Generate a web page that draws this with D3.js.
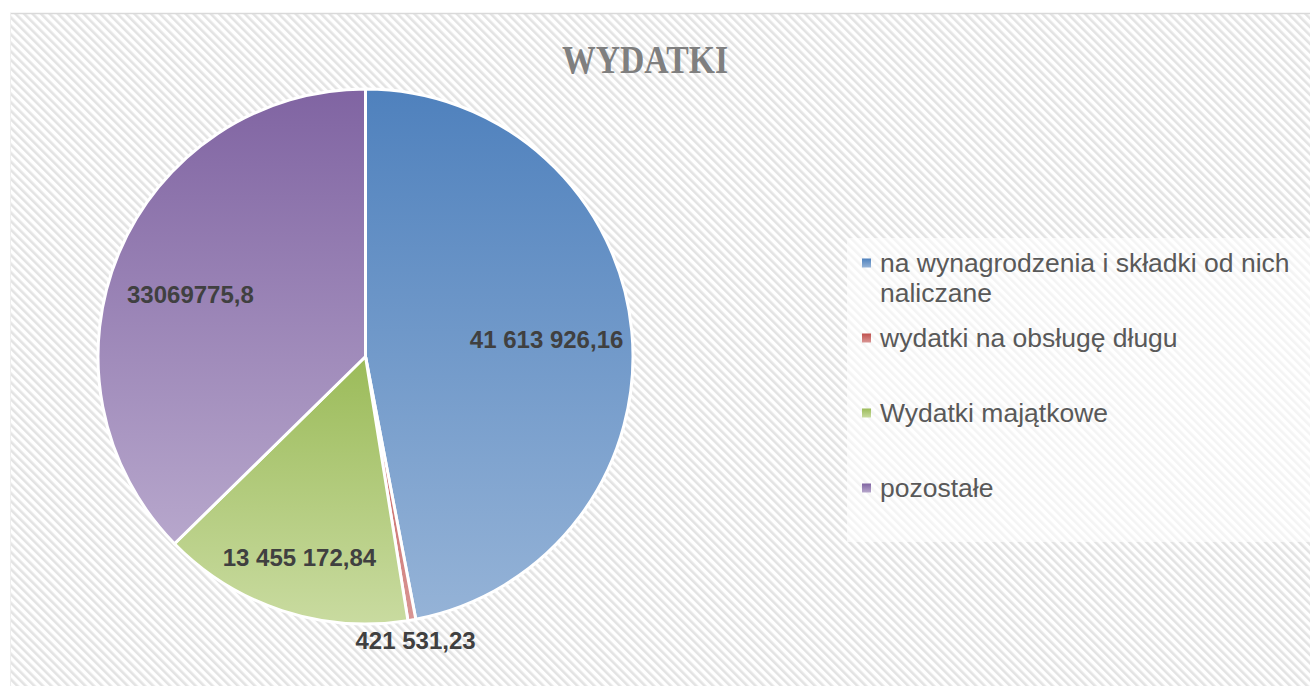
<!DOCTYPE html>
<html>
<head>
<meta charset="utf-8">
<script src="https://cdn.jsdelivr.net/npm/d3@7"></script>
<style>
  body { margin: 0; background: #fff; }
  svg { display: block; }
</style>
</head>
<body>
<svg id="chart" width="1310" height="686"></svg>
<script>
const categories = ['na wynagrodzenia i składki od nich naliczane', 'wydatki na obsługę długu', 'Wydatki majątkowe', 'pozostałe'];
const values = [41613926.16, 421531.23, 13455172.84, 33069775.8];
const valueLabels = ['41 613 926,16', '421 531,23', '13 455 172,84', '33069775,8'];
const topColors = ['#4f81bd', '#c0504d', '#9bbb59', '#8064a2'];
const bottomColors = ['#95b3d7', '#d99694', '#c9dba0', '#b7a7cc'];

const width = 1310, height = 686;
const svg = d3.select('#chart');
const defs = svg.append('defs');

// diagonal hatch background
const pat = defs.append('pattern')
  .attr('id', 'hatch')
  .attr('patternUnits', 'userSpaceOnUse')
  .attr('width', 6).attr('height', 6)
  .attr('patternTransform', 'rotate(-45)');
pat.append('rect').attr('width', 6).attr('height', 6).attr('fill', '#fff');
pat.append('rect').attr('width', 2.6).attr('height', 6).attr('fill', '#e3e3e3');

svg.append('rect')
  .attr('x', 10).attr('y', 13)
  .attr('width', width - 10).attr('height', height - 13)
  .attr('fill', 'url(#hatch)');
svg.append('line')
  .attr('x1', 10).attr('x2', width).attr('y1', 13.5).attr('y2', 13.5)
  .attr('stroke', '#d9d9d9').attr('stroke-width', 1.5);
svg.append('line')
  .attr('x1', 10.5).attr('x2', 10.5).attr('y1', 13).attr('y2', height)
  .attr('stroke', '#eeeeee').attr('stroke-width', 1);

// title
svg.append('text')
  .attr('x', 645).attr('y', 73)
  .attr('text-anchor', 'middle')
  .attr('font-family', 'Liberation Serif, serif')
  .attr('font-weight', 'bold')
  .attr('font-size', 41)
  .attr('textLength', 166)
  .attr('lengthAdjust', 'spacingAndGlyphs')
  .attr('fill', '#7f7f7f')
  .text('WYDATKI');

// gradients per slice
topColors.forEach((c, i) => {
  const g = defs.append('linearGradient')
    .attr('id', 'grad' + i)
    .attr('x1', 0).attr('y1', 0).attr('x2', 0).attr('y2', 1);
  g.append('stop').attr('offset', '0%').attr('stop-color', c);
  g.append('stop').attr('offset', '100%').attr('stop-color', bottomColors[i]);
});

const cx = 365.5, cy = 356.5, r = 267.5;
const pie = d3.pie().sort(null).value(d => d);
const arcs = pie(values);
const arc = d3.arc().innerRadius(0).outerRadius(r);

const pieG = svg.append('g').attr('transform', `translate(${cx},${cy})`);
pieG.selectAll('path')
  .data(arcs)
  .join('path')
  .attr('d', arc)
  .attr('fill', (d, i) => `url(#grad${i})`)
  .attr('stroke', '#fff')
  .attr('stroke-width', 3)
  .attr('stroke-linejoin', 'round');

// data labels (red one sits outside the pie)
const labelRadius = [0.68, 1.08, 0.79, 0.71];
pieG.selectAll('text.val')
  .data(arcs)
  .join('text')
  .attr('class', 'val')
  .attr('transform', (d, i) => {
    const a = d3.arc().innerRadius(r * labelRadius[i]).outerRadius(r * labelRadius[i]);
    const p = a.centroid(d);
    return `translate(${p[0]},${p[1]})`;
  })
  .attr('dy', (d, i) => i === 3 ? '0.85em' : '0.35em')
  .attr('text-anchor', 'middle')
  .attr('font-family', 'Liberation Sans, Arial, sans-serif')
  .attr('font-weight', 'bold')
  .attr('font-size', 24)
  .attr('fill', '#404040')
  .text((d, i) => valueLabels[i]);

// legend
svg.append('rect')
  .attr('x', 847).attr('y', 238).attr('width', width - 847).attr('height', 304)
  .attr('fill', '#fff').attr('fill-opacity', 0.6);

const legendY = [263, 338, 413, 488];
const legendLines = [['na wynagrodzenia i składki od nich', 'naliczane'], ['wydatki na obsługę długu'], ['Wydatki majątkowe'], ['pozostałe']];
const leg = svg.append('g');
const items = leg.selectAll('g')
  .data(categories)
  .join('g')
  .attr('transform', (d, i) => `translate(0,${legendY[i]})`);
items.append('rect')
  .attr('x', 862).attr('y', -4.5).attr('width', 9).attr('height', 9)
  .attr('fill', (d, i) => `url(#grad${i})`);
items.append('text')
  .attr('x', 880).attr('y', 9)
  .attr('font-family', 'Liberation Sans, Arial, sans-serif')
  .attr('font-size', 26.5)
  .attr('fill', '#595959')
  .selectAll('tspan')
  .data((d, i) => legendLines[i])
  .join('tspan')
  .attr('x', 880)
  .attr('dy', (d, j) => j === 0 ? 0 : 30)
  .text(d => d);
</script>
</body>
</html>
